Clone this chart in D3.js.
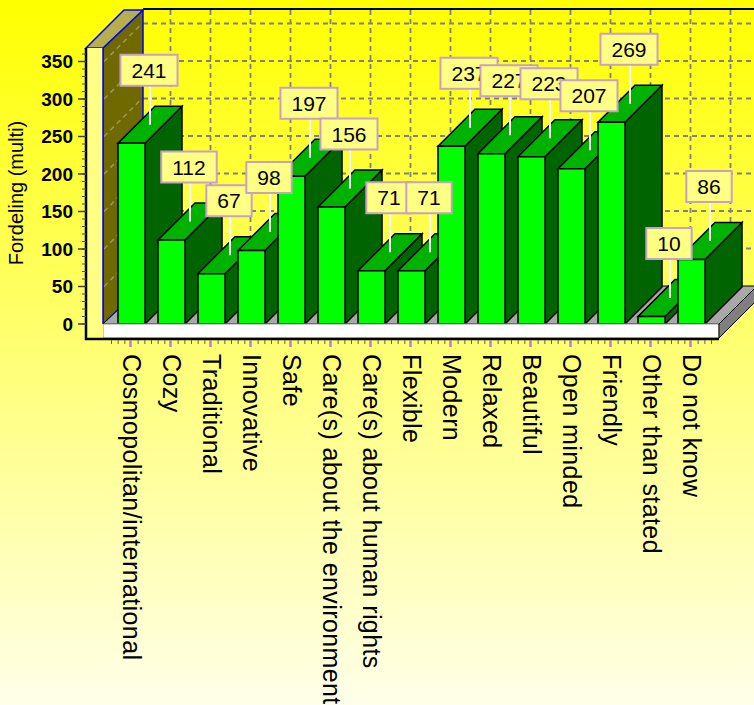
<!DOCTYPE html>
<html><head><meta charset="utf-8">
<script src="https://cdn.jsdelivr.net/npm/d3@7"></script>
<style>html,body{margin:0;padding:0;background:#fff}svg{display:block}</style>
</head><body>
<script>
const categories = ["Cosmopolitan/international","Cozy","Traditional","Innovative","Safe",
  "Care(s) about the environment","Care(s) about human rights","Flexible","Modern","Relaxed",
  "Beautiful","Open minded","Friendly","Other than stated","Do not know"];
const values = [241,112,67,98,197,156,71,71,237,227,223,207,269,10,86];
const yTicks = [0,50,100,150,200,250,300,350];
const yMinorTicks = d3.range(0, 370, 10);
const yTitle = "Fordeling (multi)";

const W = 754, H = 705;
const FONT = "'Liberation Sans', Arial, sans-serif";

// oblique depth of the walls and of the bars
const DX = 40, DY = -38;
const BDX = 37, BDY = -37;

const svg = d3.select("body").append("svg").attr("width", W).attr("height", H);
const defs = svg.append("defs");
const bg = defs.append("linearGradient").attr("id", "bg").attr("x1", 0).attr("y1", 0).attr("x2", 0).attr("y2", 1);
bg.append("stop").attr("offset", "0").attr("stop-color", "#ffff00");
bg.append("stop").attr("offset", "1").attr("stop-color", "#ffffea");
svg.append("rect").attr("width", W).attr("height", H).attr("fill", "url(#bg)");

const y = d3.scaleLinear().domain([0, 368]).range([324, 48]);
const x = d3.scaleBand().domain(categories).range([111.5, 711.5]).paddingInner(0.325).paddingOuter(0.1625);
const bw = x.bandwidth();
const cx = c => x(c) + bw / 2;

const wallL = 103, wallR = 143, floorR = 719;
const base = y(0);

// back wall grid
const grid = svg.append("g").attr("stroke", "#808080").attr("stroke-width", 1.8).attr("stroke-dasharray", "5,4").attr("fill", "none");
yTicks.filter(t => t > 0).forEach(t => {
  grid.append("line").attr("x1", wallR).attr("x2", W).attr("y1", y(t) + DY).attr("y2", y(t) + DY);
});
categories.forEach(c => {
  grid.append("line").attr("x1", cx(c) + DX - 1).attr("x2", cx(c) + DX - 1).attr("y1", y(368) + DY).attr("y2", base + DY);
});
// back wall top edge
svg.append("line").attr("x1", wallR).attr("x2", W).attr("y1", y(368) + DY - 1).attr("y2", y(368) + DY - 1)
  .attr("stroke", "#000").attr("stroke-width", 2);

const poly = pts => pts.map(p => p.join(",")).join(" ");

// left wall: side face and top face
svg.append("polygon").attr("points", poly([[wallL, y(368)], [wallL + DX, y(368) + DY], [wallL + DX, base + DY], [wallL, base]]))
  .attr("fill", "#6f6900").attr("stroke", "#0000ff").attr("stroke-width", 1.5);
const lgrid = svg.append("g").attr("stroke", "#9a9460").attr("stroke-width", 1.5).attr("stroke-dasharray", "5,4");
yTicks.filter(t => t > 0).forEach(t => {
  lgrid.append("line").attr("x1", wallL + 1).attr("y1", y(t)).attr("x2", wallL + DX - 1).attr("y2", y(t) + DY);
});
svg.append("polygon").attr("points", poly([[86, y(368)], [wallL, y(368)], [wallL + DX, y(368) + DY], [86 + DX - 2, y(368) + DY]]))
  .attr("fill", "#b6af4c").attr("stroke", "#0000ff").attr("stroke-width", 1.5);

// floor top face
svg.append("polygon").attr("points", poly([[wallL, base], [floorR, base], [floorR + DX - 2, base + DY], [wallL + DX, base + DY]]))
  .attr("fill", "#a8a8a8").attr("stroke", "#000").attr("stroke-width", 1);

// bars
const bars = svg.append("g").attr("stroke", "#000").attr("stroke-width", 1.5).attr("stroke-linejoin", "miter");
categories.forEach((c, i) => {
  const x0 = x(c), y0 = y(values[i]);
  const g = bars.append("g");
  g.append("polygon").attr("points", poly([[x0 + bw, y0], [x0 + bw + BDX, y0 + BDY], [x0 + bw + BDX, base + BDY], [x0 + bw, base]]))
    .attr("fill", "#006400");
  g.append("polygon").attr("points", poly([[x0, y0], [x0 + bw, y0], [x0 + bw + BDX, y0 + BDY], [x0 + BDX, y0 + BDY]]))
    .attr("fill", "#00b200");
  g.append("rect").attr("x", x0).attr("y", y0).attr("width", bw).attr("height", base - y0).attr("fill", "#00ff00");
});

// floor front and side faces
svg.append("rect").attr("x", wallL).attr("y", base).attr("width", floorR - wallL).attr("height", 14)
  .attr("fill", "#ffffff").attr("stroke", "#909090").attr("stroke-width", 1);
svg.append("polygon").attr("points", poly([[floorR, base], [floorR + DX - 2, base + DY], [floorR + DX - 2, base + DY + 14], [floorR, base + 14]]))
  .attr("fill", "#808080").attr("stroke", "#000").attr("stroke-width", 1);

// y axis front face
svg.append("rect").attr("x", 86).attr("y", y(368)).attr("width", wallL - 86).attr("height", base + 15 - y(368))
  .attr("fill", "#ffff84");
svg.append("line").attr("x1", wallL).attr("x2", wallL).attr("y1", y(368)).attr("y2", base).attr("stroke", "#0000ff").attr("stroke-width", 1.5);
svg.append("path").attr("d", `M86,${y(368)}V${base + 15}H${floorR}`).attr("fill", "none").attr("stroke", "#000").attr("stroke-width", 2.5);

// y ticks and labels
const yax = svg.append("g");
yMinorTicks.forEach(t => {
  yax.append("line").attr("x1", 82).attr("x2", 86).attr("y1", y(t)).attr("y2", y(t)).attr("stroke", "#505050").attr("stroke-width", 1);
});
yTicks.forEach(t => {
  yax.append("line").attr("x1", 78).attr("x2", 86).attr("y1", y(t)).attr("y2", y(t)).attr("stroke", "#404040").attr("stroke-width", 1.5);
  yax.append("text").attr("x", 73).attr("y", y(t)).attr("dy", "0.36em").attr("text-anchor", "end")
    .attr("font-family", FONT).attr("font-size", 19).attr("font-weight", "bold").attr("fill", "#000").text(t);
});
svg.append("text").attr("transform", `translate(23,193) rotate(-90)`).attr("text-anchor", "middle")
  .attr("font-family", FONT).attr("font-size", 20).attr("fill", "#000").text(yTitle);

// x ticks and category labels
const xax = svg.append("g");
categories.forEach((c, i) => {
  for (let k = -3; k <= 3; k++) {
    if (k === 0) continue;
    if (i > 0 && k === -3) continue;
    xax.append("line").attr("x1", cx(c) + k * 40 / 6).attr("x2", cx(c) + k * 40 / 6).attr("y1", base + 16).attr("y2", base + 20)
      .attr("stroke", "#606060").attr("stroke-width", 1);
  }
  xax.append("line").attr("x1", cx(c) - 1).attr("x2", cx(c) - 1).attr("y1", base + 16).attr("y2", base + 23)
    .attr("stroke", "#c080c8").attr("stroke-width", 2.5);
  xax.append("text").attr("transform", `translate(${cx(c)},354) rotate(90)`).attr("dominant-baseline", "central")
    .attr("font-family", FONT).attr("font-size", 25).attr("letter-spacing", "0.4px").attr("fill", "#000").text(c);
});

// value labels with leader lines
const labels = svg.append("g");
categories.forEach((c, i) => {
  const px = x(c) + bw / 2 + BDX / 2, py = y(values[i]) + BDY / 2;
  const g = labels.append("g");
  g.append("line").attr("x1", px).attr("x2", px).attr("y1", py).attr("y2", py - 39).attr("stroke", "#ffffff").attr("stroke-width", 2);
  const box = g.append("rect");
  const t = g.append("text").attr("x", px - 1).attr("y", py - 39 - 15.5).attr("dy", "0.36em").attr("text-anchor", "middle")
    .attr("font-family", FONT).attr("font-size", 21).attr("fill", "#000").text(values[i]);
  const tw = t.node().getComputedTextLength();
  box.attr("x", px - 1 - tw / 2 - 11).attr("y", py - 39 - 31).attr("width", tw + 22).attr("height", 31)
    .attr("fill", "#ffff84").attr("stroke", "#c8a0c8").attr("stroke-width", 2);
});
</script>
</body></html>
